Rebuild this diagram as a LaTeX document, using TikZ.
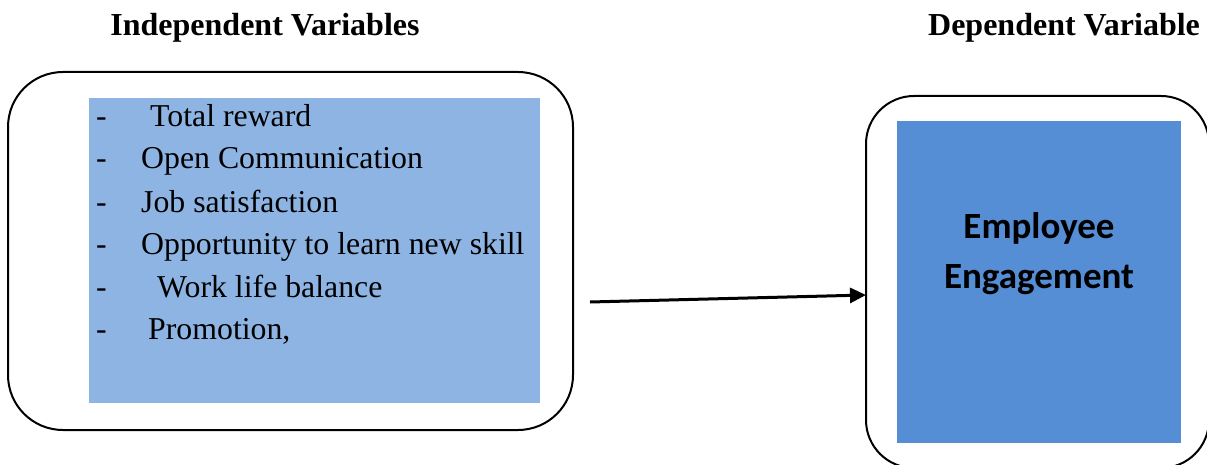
\documentclass[tikz,border=0pt]{standalone}
\usepackage{fontspec}
\setmainfont{Liberation Serif}
\newfontfamily\calibrifont{Carlito}
\usetikzlibrary{arrows.meta}
\definecolor{ivfill}{HTML}{8EB4E3}
\definecolor{dvfill}{HTML}{558ED5}
\begin{document}
\begin{tikzpicture}[x=1pt,y=-1pt,
  frame/.style={draw=black,line width=2pt,rounded corners=55pt,inner sep=0pt},
  panel/.style={inner sep=0pt,outer sep=0pt},
  heading/.style={font=\fontsize{32}{38}\selectfont\bfseries,inner sep=0pt,anchor=base},
  item/.style={font=\fontsize{31.8}{42}\selectfont,inner sep=0pt,anchor=base west},
  dvtext/.style={font=\fontsize{37}{50}\selectfont\calibrifont\bfseries,inner sep=0pt,anchor=base},
  link/.style={line width=3pt,-{Triangle[length=16pt,width=15pt]}}]
\useasboundingbox (0,0) rectangle (1207,465);
\clip (0,0) rectangle (1207,465);

% headings
\node[heading] (ivhead) at (265,36) {Independent Variables};
\node[heading] (dvhead) at (1064,36) {Dependent Variable};

% independent variables
\draw[frame] (8,72) rectangle (573,430);
\fill[ivfill] (89,98) rectangle (540,403);
\node[panel,minimum width=451pt,minimum height=305pt] (ivlist) at (314.5,250.5) {};
\foreach \yy/\xx/\txt [count=\i] in {127/150/Total reward,169/141/Open Communication,212/141/Job satisfaction,254/141/Opportunity to learn new skill,297/157/Work life balance,339/148/{Promotion,}}{
  \node[item] (dash\i) at (96,\yy) {-};
  \node[item] (iv\i) at (\xx,\yy) {\txt};
}

% dependent variable
\draw[frame,rounded corners=48pt] (866,96) rectangle (1209,468);
\node[panel,minimum width=0pt] (dvbox) at (866,295) {};
\fill[dvfill] (897,121) rectangle (1181,443);
\node[dvtext] (dv1) at (1039,238) {Employee};
\node[dvtext] (dv2) at (1039,288) {Engagement};

% relationship
\coordinate (linkstart) at (590,302);
\draw[link] (linkstart) -- (dvbox);
\end{tikzpicture}
\end{document}
